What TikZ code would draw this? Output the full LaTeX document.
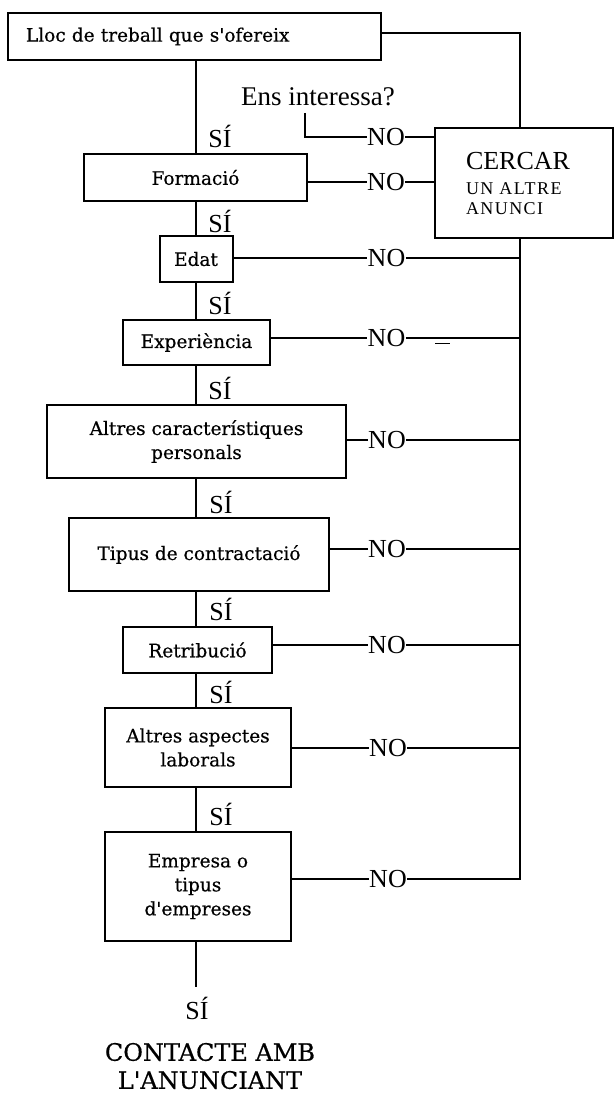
\documentclass[tikz,border=0pt]{standalone}
\usepackage{fontspec}
\setmainfont{DejaVu Serif}[FakeBold=0.5]
\newfontfamily\tmsfont{Liberation Serif}
\newfontfamily\tmsspaced[LetterSpace=8]{Liberation Serif}
\begin{document}
\begin{tikzpicture}[x=1pt,y=-1pt,
  box/.style={draw, line width=2pt, inner sep=0pt, align=center, font=\fontsize{18.5}{24}\selectfont},
  conn/.style={line width=2pt},
  nolab/.style={font=\tmsfont\fontsize{26}{26}\selectfont, inner sep=0.3pt},
  silab/.style={font=\tmsfont\fontsize{26}{26}\selectfont, inner sep=0pt},
]
\fill[white] (0,0) rectangle (615,1094);
\useasboundingbox (0,0) rectangle (615,1094);

\coordinate (spine) at (195.5,0);
\coordinate (rail) at (520,0);

% boxes
\node[box, minimum width=373pt, minimum height=47pt, text width=337pt, align=left] (top) at (194.5,36.5) {Lloc de treball que s\textquotesingle ofereix};
\node[box, minimum width=223pt, minimum height=47pt] (form) at (195.5,177.5) {Formació};
\node[box, minimum width=73pt, minimum height=46pt] (edat) at (196,259) {Edat};
\node[box, minimum width=147pt, minimum height=45pt] (exp) at (196.5,342.5) {Experiència};
\node[box, minimum width=299pt, minimum height=73pt] (pers) at (196.5,441.5) {Altres característiques\\personals};
\node[box, minimum width=260pt, minimum height=73pt] (tipus) at (199,554.5) {Tipus de contractació};
\node[box, minimum width=149pt, minimum height=46pt] (retr) at (197.5,650) {Retribució};
\node[box, minimum width=186pt, minimum height=79pt] (asp) at (198,747.5) {Altres aspectes\\laborals};
\node[box, minimum width=186pt, minimum height=109pt] (emp) at (198,886.5) {Empresa o\\tipus\\d\textquotesingle empreses};
\node[box, minimum width=178pt, minimum height=110pt, text width=116pt, align=left, font=\tmsspaced\fontsize{18}{20}\selectfont] (cercar) at (524,183) {{\tmsfont\fontsize{26}{26}\selectfont CERCAR}\\[5pt]UN ALTRE\\ANUNCI};

% question
\node[font=\tmsfont\fontsize{27}{27}\selectfont, inner sep=0pt] (ens) at (318,97) {Ens interessa?};
\coordinate (ensfoot) at (305,113);

% NO labels
\node[nolab] (no0) at (386,137) {NO};
\node[nolab] (no1) at (386,182) {NO};
\node[nolab] (no2) at (386.5,258) {NO};
\node[nolab] (no3) at (386.5,338) {NO};
\node[nolab] (no4) at (387,440) {NO};
\node[nolab] (no5) at (387,549) {NO};
\node[nolab] (no6) at (387,645) {NO};
\node[nolab] (no7) at (388,748) {NO};
\node[nolab] (no8) at (388,879) {NO};

% SI labels
\node[silab] (si0) at (220,136) {SÍ};
\node[silab] (si1) at (220,221) {SÍ};
\node[silab] (si2) at (220,303) {SÍ};
\node[silab] (si3) at (220,388) {SÍ};
\node[silab] (si4) at (221,502) {SÍ};
\node[silab] (si5) at (221,609) {SÍ};
\node[silab] (si6) at (221,692) {SÍ};
\node[silab] (si7) at (221,814) {SÍ};
\coordinate (endpt) at (196,987);
\node[silab] (si8) at (197,1008) {SÍ};
\node[align=center, inner sep=0pt, font=\fontsize{24}{28}\selectfont] (contact) at (210,1066) {CONTACTE AMB\\L\textquotesingle ANUNCIANT};

% spine
\draw[conn] (top.south -| spine) -- (form.north -| spine);
\draw[conn] (form.south -| spine) -- (edat.north -| spine);
\draw[conn] (edat.south -| spine) -- (exp.north -| spine);
\draw[conn] (exp.south -| spine) -- (pers.north -| spine);
\draw[conn] (pers.south -| spine) -- (tipus.north -| spine);
\draw[conn] (tipus.south -| spine) -- (retr.north -| spine);
\draw[conn] (retr.south -| spine) -- (asp.north -| spine);
\draw[conn] (asp.south -| spine) -- (emp.north -| spine);
\draw[conn] (emp.south -| endpt) -- (endpt);

% top to CERCAR
\draw[conn] ([yshift=3.5pt]top.east) -| (cercar.north -| rail);

% Ens interessa
\draw[conn] (ensfoot) |- (no0.west);
\draw[conn] (no0.east) -- (no0.east -| cercar.west);

% Formacio
\draw[conn] (form.east |- no1) -- (no1.west);
\draw[conn] (no1.east) -- (no1.east -| cercar.west);

% right rail
\draw[conn] (no8.east) -| (cercar.south -| rail);
\draw[conn] (edat.east |- no2) -- (no2.west);
\draw[conn] (no2.east) -- (no2.east -| rail);
\draw[conn] (exp.east |- no3) -- (no3.west);
\draw[conn] (no3.east) -- (no3.east -| rail);
\coordinate (dashA) at (435,343.5);
\coordinate (dashB) at (450,343.5);
\draw[line width=1.2pt] (dashA) -- (dashB);
\draw[conn] (pers.east |- no4) -- (no4.west);
\draw[conn] (no4.east) -- (no4.east -| rail);
\draw[conn] (tipus.east |- no5) -- (no5.west);
\draw[conn] (no5.east) -- (no5.east -| rail);
\draw[conn] (retr.east |- no6) -- (no6.west);
\draw[conn] (no6.east) -- (no6.east -| rail);
\draw[conn] (asp.east |- no7) -- (no7.west);
\draw[conn] (no7.east) -- (no7.east -| rail);
\draw[conn] (emp.east |- no8) -- (no8.west);
\end{tikzpicture}
\end{document}
